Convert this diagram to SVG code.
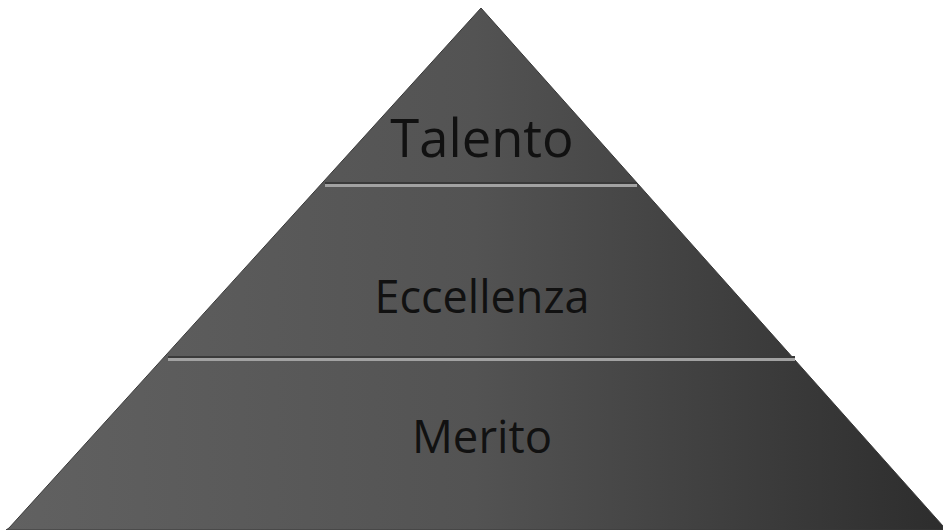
<svg xmlns="http://www.w3.org/2000/svg" width="943" height="530" viewBox="0 0 943 530">
<defs>
<linearGradient id="g" x1="0" y1="0" x2="1" y2="0">
<stop offset="0" stop-color="#616161"/>
<stop offset="0.5" stop-color="#535353"/>
<stop offset="1" stop-color="#2d2d2d"/>
</linearGradient>
<style>
.t{font-family:"Open Sans","DejaVu Sans",sans-serif;fill:#111;text-anchor:middle}
.sep{fill:#a2a2a2}
.sh{fill:#3a3a3a}
</style>
</defs>
<rect width="943" height="530" fill="#fff"/>
<g id="pyramid">
<polygon points="481,8 943,526 943,530 6,530 9,528" fill="url(#g)" stroke="#3a3a3a" stroke-width="1"/>
</g>
<g id="separators">
<rect class="sh" x="325" y="182" width="312" height="2"/>
<rect class="sep" x="325" y="184" width="312" height="3"/>
<rect class="sh" x="168" y="356" width="627" height="2"/>
<rect class="sep" x="168" y="358" width="627" height="3"/>
</g>
<g id="talento"><text class="t" x="482" y="157" font-size="52.5">Talento</text></g>
<g id="eccellenza"><text class="t" x="482" y="313" font-size="45">Eccellenza</text></g>
<g id="merito"><text class="t" x="482" y="453" font-size="45.5">Merito</text></g>
</svg>
